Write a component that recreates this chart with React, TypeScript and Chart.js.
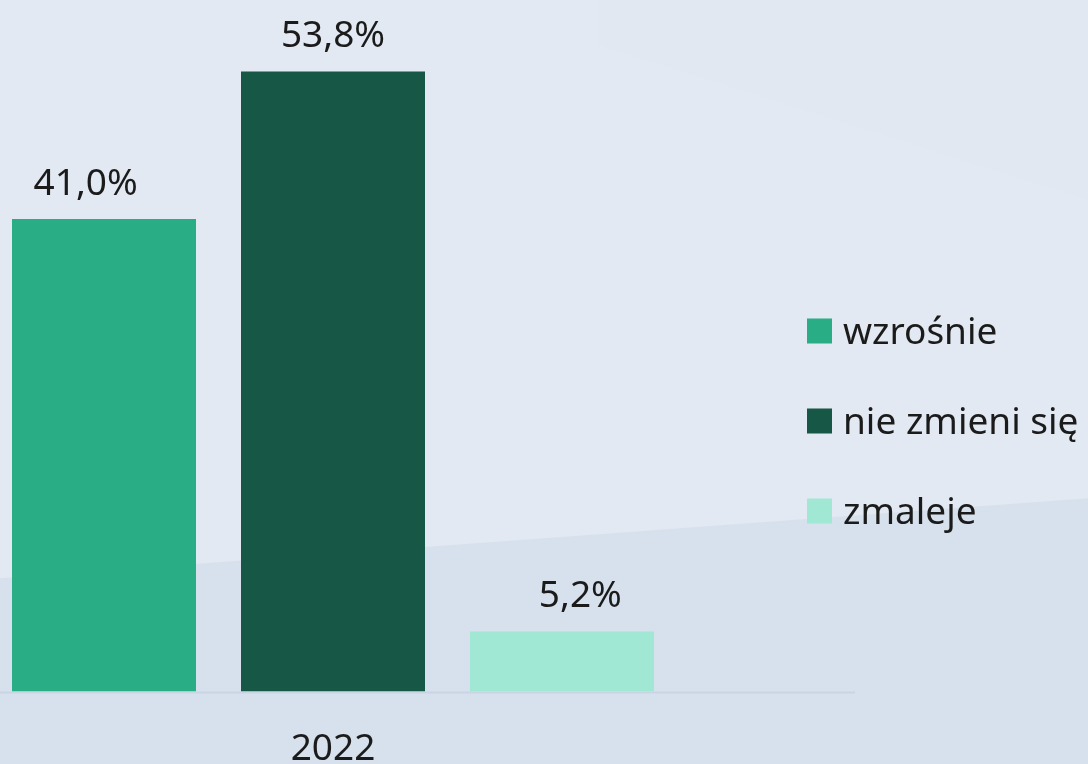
import React, { useEffect, useRef } from "react";
import { Chart, registerables } from "chart.js";

Chart.register(...registerables);

const categories = ["2022"];
const seriesNames = ["wzrośnie", "nie zmieni się", "zmaleje"];
const seriesValues = [[41.0], [53.8], [5.2]];
const seriesColors = ["#29ad84", "#165746", "#a0e8d4"];
const yMax = 60;

const FONT = "'Noto Sans', 'DejaVu Sans', sans-serif";
const TEXT_COLOR = "#1b1b1b";
const VIEW_W = 1088;
const VIEW_H = 764;
const CANVAS_H = 807;

const fmt = (v: number) => v.toFixed(1).replace(".", ",") + "%";

const backgroundPlugin = {
  id: "bgPlugin",
  beforeDraw(chart: any, _args: any, opts: any) {
    const { ctx, width } = chart;
    const height = opts.viewHeight;
    ctx.save();
    ctx.fillStyle = "#e2e9f3";
    ctx.fillRect(0, 0, width, chart.height);
    ctx.fillStyle = "#e1e8f2";
    ctx.beginPath();
    ctx.moveTo(width * 0.55, 45);
    ctx.lineTo(width, 200);
    ctx.lineTo(width, 0);
    ctx.lineTo(width * 0.55, 0);
    ctx.closePath();
    ctx.fill();
    ctx.fillStyle = "#d7e1ed";
    ctx.beginPath();
    ctx.moveTo(0, height * 0.757);
    ctx.lineTo(width, height * 0.652);
    ctx.lineTo(width, chart.height);
    ctx.lineTo(0, chart.height);
    ctx.closePath();
    ctx.fill();
    ctx.restore();
  },
};

const baselinePlugin = {
  id: "baselinePlugin",
  beforeDatasetsDraw(chart: any, _args: any, opts: any) {
    const { ctx, chartArea, scales } = chart;
    const y = scales.y.getPixelForValue(0) + 1;
    ctx.save();
    ctx.strokeStyle = opts.color;
    ctx.lineWidth = 2;
    ctx.beginPath();
    ctx.moveTo(chartArea.left, y);
    ctx.lineTo(chartArea.right + opts.extendRight, y);
    ctx.stroke();
    ctx.restore();
  },
};

const valueLabelPlugin = {
  id: "valueLabelPlugin",
  afterDatasetsDraw(chart: any, _args: any, opts: any) {
    const { ctx, scales } = chart;
    ctx.save();
    ctx.font = `37px ${FONT}`;
    ctx.fillStyle = TEXT_COLOR;
    ctx.textAlign = "center";
    ctx.textBaseline = "alphabetic";
    chart.data.datasets.forEach((ds: any, di: number) => {
      const meta = chart.getDatasetMeta(di);
      meta.data.forEach((bar: any, i: number) => {
        const center = scales.x.getPixelForValue(i);
        const x = bar.x + (bar.x - center) * opts.spread;
        ctx.fillText(fmt(ds.data[i]), x, bar.y - opts.gap);
      });
    });
    ctx.restore();
  },
};

const legendPlugin = {
  id: "customLegend",
  afterDraw(chart: any, _args: any, opts: any) {
    const { ctx } = chart;
    ctx.save();
    ctx.font = `37px ${FONT}`;
    ctx.textBaseline = "alphabetic";
    ctx.textAlign = "left";
    chart.data.datasets.forEach((ds: any, i: number) => {
      const cy = opts.y + i * opts.spacing;
      ctx.fillStyle = ds.backgroundColor;
      ctx.fillRect(opts.x, cy - opts.box / 2, opts.box, opts.box);
      ctx.fillStyle = TEXT_COLOR;
      ctx.fillText(ds.label, opts.x + opts.box + opts.gap, cy + 13);
    });
    ctx.restore();
  },
};

export default function App() {
  const ref = useRef<HTMLCanvasElement | null>(null);
  useEffect(() => {
    document.body.style.margin = "0";
    const canvas = ref.current!;
    const chart = new Chart(canvas, {
      type: "bar",
      data: {
        labels: categories,
        datasets: seriesNames.map((name, i) => ({
          label: name,
          data: seriesValues[i],
          backgroundColor: seriesColors[i],
          borderWidth: 0,
          categoryPercentage: 1.0315,
          barPercentage: 0.8035,
        })),
      },
      options: {
        responsive: false,
        animation: false,
        layout: { padding: { left: 0, right: 422, top: 0, bottom: 0 } },
        plugins: {
          legend: { display: false },
          tooltip: { enabled: false },
          bgPlugin: { viewHeight: VIEW_H },
          baselinePlugin: { color: "#cad5e3", extendRight: 189 },
          valueLabelPlugin: { gap: 24, spread: 0.08 },
          customLegend: { x: 807, y: 331, spacing: 90, box: 25, gap: 11 },
        } as any,
        scales: {
          x: {
            grid: { display: false, drawTicks: false },
            border: { display: false },
            ticks: {
              color: TEXT_COLOR,
              font: { family: FONT, size: 37, lineHeight: 1.2 },
              padding: 35.6,
            },
          },
          y: {
            display: false,
            min: 0,
            max: yMax,
          },
        },
      },
      plugins: [backgroundPlugin, baselinePlugin, valueLabelPlugin, legendPlugin],
    });
    return () => chart.destroy();
  }, []);
  return (
    <div style={{ width: VIEW_W, height: VIEW_H, overflow: "hidden" }}>
      <canvas ref={ref} width={VIEW_W} height={CANVAS_H} style={{ display: "block" }} />
    </div>
  );
}
